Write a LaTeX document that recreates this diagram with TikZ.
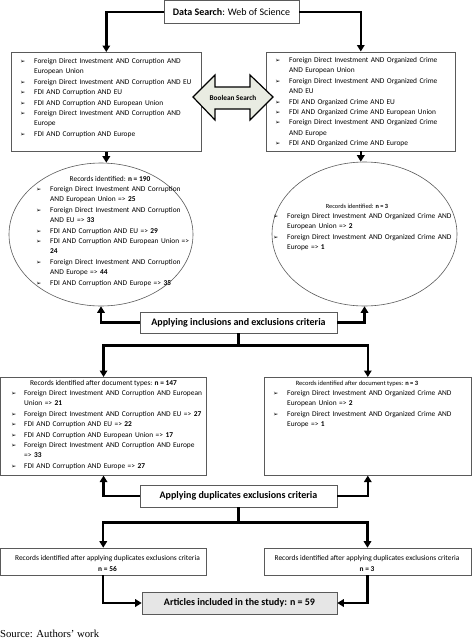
\documentclass[tikz,border=0pt]{standalone}
\usepackage{fontspec}
\setmainfont{Carlito}
\newfontfamily\dejavu{DejaVu Sans}
\newfontfamily\srcfont{Liberation Serif}
\usetikzlibrary{arrows.meta,calc,shadows,shapes.geometric}
\definecolor{boolfill}{HTML}{E9ECE2}
\definecolor{artfill}{HTML}{E6E6E6}
\definecolor{bord}{HTML}{5A5A5A}
\newcommand\bul{{\dejavu\fontsize{6.3}{6}\selectfont ➢}}
\newcommand{\fitem}[2][14pt]{\hangindent=#1\hangafter=1\makebox[#1][l]{\bul}#2}
\newcommand{\bitem}[2][14pt]{\par\hangindent=#1\hangafter=1\noindent\makebox[#1][l]{\bul}#2}
\tikzset{
  box/.style={draw=bord, line width=0.6pt, fill=white, inner sep=0pt},
  ell/.style={draw=bord, line width=0.6pt, ellipse, inner sep=0pt},
  txt/.style={inner sep=0pt, font=\fontsize{7.4}{10.4}\selectfont},
  lst/.style={txt, anchor=base west, text width=215pt, align=left},
  hdr/.style={txt, anchor=base},
  big/.style={inner sep=0pt, font=\fontsize{10}{12}\selectfont\bfseries},
  conn/.style={line width=2.4pt, -{Triangle[width=7.5pt,length=6.5pt]}},
  line/.style={line width=2.4pt}
}
\begin{document}
\begin{tikzpicture}[x=1pt,y=-1pt]
\useasboundingbox (0,0) rectangle (474,640);

% top
\node[box, minimum width=135pt, minimum height=22.5pt, font=\fontsize{10}{12}\selectfont] (top) at (231.5,11.75) {\textbf{Data Search}: Web of Science};

% first row boxes
\node[box, minimum width=190pt, minimum height=99pt, anchor=north west] (b1) at (11,52) {};
\node[box, minimum width=189pt, minimum height=99pt, anchor=north west] (b2) at (266,51.5) {};

\node[lst] (t1) at (20,63.4) {\fitem{Foreign Direct Investment AND Corruption AND\newline European Union}
\bitem{Foreign Direct Investment AND Corruption AND EU}
\bitem{FDI AND Corruption AND EU}
\bitem{FDI AND Corruption AND European Union}
\bitem{Foreign Direct Investment AND Corruption AND\newline Europe}
\bitem{FDI AND Corruption AND Europe}\par};

\node[lst] (t2) at (275,62.4) {\fitem{Foreign Direct Investment AND Organized Crime\newline AND European Union}
\bitem{Foreign Direct Investment AND Organized Crime\newline AND EU}
\bitem{FDI AND Organized Crime AND EU}
\bitem{FDI AND Organized Crime AND European Union}
\bitem{Foreign Direct Investment AND Organized Crime\newline AND Europe}
\bitem{FDI AND Organized Crime AND Europe}\par};

% boolean double arrow
\filldraw[fill=boolfill, draw=black, line width=1.2pt, line join=miter]
  (193,97) -- (215,75) -- (215,87) -- (250,87) -- (250,75) -- (273,97)
  -- (250,120) -- (250,109) -- (215,109) -- (215,120) -- cycle;
\node[inner sep=0pt, font=\fontsize{7.3}{9}\selectfont\bfseries] (bs) at (233,97.5) {Boolean Search};

% ellipses
\node[ell, minimum width=184pt, minimum height=143pt] (e1) at (101,234.5) {};
\node[ell, minimum width=185pt, minimum height=144pt] (e2) at (364.5,234) {};

\node[hdr] (h1) at (110,181.4) {Records identified: \textbf{n = 190}};
\node[lst] (t3) at (36,191.4) {\fitem{Foreign Direct Investment AND Corruption\newline AND European Union => \textbf{25}}
\bitem{Foreign Direct Investment AND Corruption\newline AND EU => \textbf{33}}
\bitem{FDI AND Corruption AND EU => \textbf{29}}
\bitem{FDI AND Corruption AND European Union =>\newline \textbf{24}}
\bitem{Foreign Direct Investment AND Corruption\newline AND Europe => \textbf{44}}
\bitem{FDI AND Corruption AND Europe => \textbf{35}}\par};

\node[hdr, font=\fontsize{6.3}{8}\selectfont] (h2) at (357,208) {Records identified: \textbf{n = 3}};
\node[lst] (t4) at (273,218.4) {\fitem{Foreign Direct Investment AND Organized Crime AND\newline European Union => \textbf{2}}
\bitem{Foreign Direct Investment AND Organized Crime AND\newline Europe => \textbf{1}}\par};

% criteria 1
\node[box, big, minimum width=197pt, minimum height=21pt] (c1) at (238.5,322.5) {Applying inclusions and exclusions criteria};

% second row boxes
\node[box, minimum width=205.5pt, minimum height=98pt, anchor=north west] (b3) at (0.5,377) {};
\node[box, minimum width=207pt, minimum height=98pt, anchor=north west] (b4) at (264,377) {};

\node[hdr] (h3) at (103.5,385.4) {Records identified after document types: \textbf{n = 147}};
\node[lst] (t5) at (11,395.4) {\fitem[13pt]{Foreign Direct Investment AND Corruption AND European\newline Union => \textbf{21}}
\bitem[13pt]{Foreign Direct Investment AND Corruption AND EU => \textbf{27}}
\bitem[13pt]{FDI AND Corruption AND EU => \textbf{22}}
\bitem[13pt]{FDI AND Corruption AND European Union => \textbf{17}}
\bitem[13pt]{Foreign Direct Investment AND Corruption AND Europe\newline => \textbf{33}}
\bitem[13pt]{FDI AND Corruption AND Europe => \textbf{27}}\par};

\node[hdr, font=\fontsize{6.5}{8}\selectfont] (h4) at (357,385.2) {Records identified after document types: \textbf{n = 3}};
\node[lst] (t6) at (273,395.4) {\fitem{Foreign Direct Investment AND Organized Crime AND\newline European Union => \textbf{2}}
\bitem{Foreign Direct Investment AND Organized Crime AND\newline Europe => \textbf{1}}\par};

% criteria 2
\node[box, big, minimum width=197pt, minimum height=22pt] (c2) at (238.5,496) {Applying duplicates exclusions criteria};

% third row
\node[box, minimum width=205.5pt, minimum height=27pt] (b5) at (103.25,561.5) {};
\node[box, minimum width=207pt, minimum height=27pt] (b6) at (367.5,561.5) {};
\node[hdr] (r5a) at (107.5,560.5) {Records identified after applying duplicates exclusions criteria};
\node[hdr] (r5b) at (107.5,571.5) {\textbf{n = 56}};
\node[hdr] (r6a) at (367,560.5) {Records identified after applying duplicates exclusions criteria};
\node[hdr] (r6b) at (367,571.5) {\textbf{n = 3}};

% articles
\node[box, big, fill=artfill, minimum width=195pt, minimum height=22pt,
  drop shadow={shadow xshift=1pt, shadow yshift=-1pt, fill=black!45, opacity=1}] (art) at (239.5,603) {Articles included in the study: n = 59};

% source
\node[inner sep=0pt, anchor=base west, font=\srcfont\fontsize{10.7}{12}\selectfont] (src) at (0,637) {Source: Authors’ work};

% connectors
\draw[conn] (top.west) -| (b1.north);
\draw[conn] (top.east) -| (b2.north);
\draw[conn] (b1.south) -- (b1.south |- e1.north);
\draw[conn] (b2.south) -- (b2.south |- e2.north);
\draw[conn] (c1.west) -| (e1.south);
\draw[conn] (c1.east) -| (e2.south);
\coordinate (s1) at ($(c1.south)+(0,12)$);
\draw[line] (c1.south) -- (s1);
\draw[conn] (s1) -| (b3.north);
\draw[conn] (s1) -| (b4.north);
\draw[conn] (c2.west) -| (b3.south);
\draw[conn] (c2.east) -| (b4.south);
\coordinate (s2) at ($(c2.south)+(0,15)$);
\draw[line] (c2.south) -- (s2);
\draw[conn] (s2) -| (b5.north);
\draw[conn] (s2) -| (b6.north);
\draw[conn] (b5.south) |- (art.west);
\draw[conn] (b6.south) |- (art.east);
\end{tikzpicture}
\end{document}
